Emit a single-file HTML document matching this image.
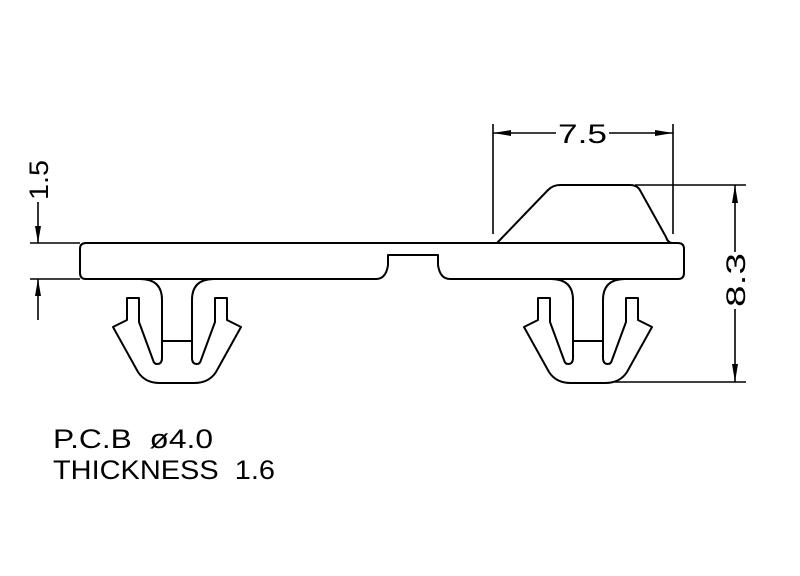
<!DOCTYPE html>
<html><head><meta charset="utf-8"><style>
html,body{margin:0;padding:0;background:#fff;}
svg{display:block;}
text{font-family:"Liberation Sans",sans-serif;fill:#000;white-space:pre;}
</style></head><body>
<svg width="800" height="576" viewBox="0 0 800 576" xmlns="http://www.w3.org/2000/svg">
<g fill="none" stroke="#000" stroke-width="2" stroke-linejoin="round">
<path d="M86,243 H678 Q684,243 684,249 V273 Q684,279 678,279 H450 Q440,279 438,265 V255 H388 V265 Q386,279 376,279 H86 Q80,279 80,273 V249 Q80,243 86,243 Z"/>
<path d="M497,243 L548,190 Q553,185 560,185 H630 Q638,185 641,192 L666,237 Q668,243 672,243"/>
<g>
<path d="M140,279 Q162,279 162,300 V358 Q162,364 157,364 Q154,364 153,360 L139,322 V298 H127 V320 L113,327 L138,372 Q145,383 160,383 H194 Q209,383 216,372 L241,327 L227,320 V298 H215 V322 L201,360 Q200,364 197,364 Q192,364 192,358 V300 Q192,279 214,279"/>
<line x1="162" y1="341" x2="192" y2="341"/>
</g>
<g transform="translate(411,0)">
<path d="M140,279 Q162,279 162,300 V358 Q162,364 157,364 Q154,364 153,360 L139,322 V298 H127 V320 L113,327 L138,372 Q145,383 160,383 H194 Q209,383 216,372 L241,327 L227,320 V298 H215 V322 L201,360 Q200,364 197,364 Q192,364 192,358 V300 Q192,279 214,279"/>
<line x1="162" y1="341" x2="192" y2="341"/>
</g>
</g>
<g stroke="#000" stroke-width="1.6" fill="none">
<line x1="30" y1="243" x2="80" y2="243"/>
<line x1="30" y1="279" x2="80" y2="279"/>
<line x1="38" y1="202" x2="38" y2="243"/>
<line x1="38" y1="279" x2="38" y2="320"/>
<line x1="493" y1="124" x2="493" y2="234"/>
<line x1="673" y1="124" x2="673" y2="234"/>
<line x1="493" y1="133" x2="556" y2="133"/>
<line x1="609" y1="133" x2="673" y2="133"/>
<line x1="635" y1="185" x2="746" y2="185"/>
<line x1="615" y1="382" x2="746" y2="382"/>
<line x1="735" y1="185" x2="735" y2="252"/>
<line x1="735" y1="309" x2="735" y2="382"/>
</g>
<g fill="#000">
<path d="M38,243 L35,226 L41,226 Z"/>
<path d="M38,279 L35,296 L41,296 Z"/>
<path d="M493,133 L511,130 L511,136 Z"/>
<path d="M673,133 L655,130 L655,136 Z"/>
<path d="M735,185 L732,203 L738,203 Z"/>
<path d="M735,382 L732,364 L738,364 Z"/>
</g>
<text x="0" y="0" font-size="27" transform="translate(48,200) rotate(-90)" textLength="40" lengthAdjust="spacingAndGlyphs">1.5</text>
<text x="558" y="143" font-size="27" textLength="49" lengthAdjust="spacingAndGlyphs">7.5</text>
<text x="0" y="0" font-size="27" transform="translate(745,307) rotate(-90)" textLength="54" lengthAdjust="spacingAndGlyphs">8.3</text>
<text x="53" y="448" font-size="27" textLength="160" lengthAdjust="spacingAndGlyphs" xml:space="preserve">P.C.B  ø4.0</text>
<text x="53" y="479" font-size="27" textLength="222" lengthAdjust="spacingAndGlyphs" xml:space="preserve">THICKNESS  1.6</text>
</svg>
</body></html>
